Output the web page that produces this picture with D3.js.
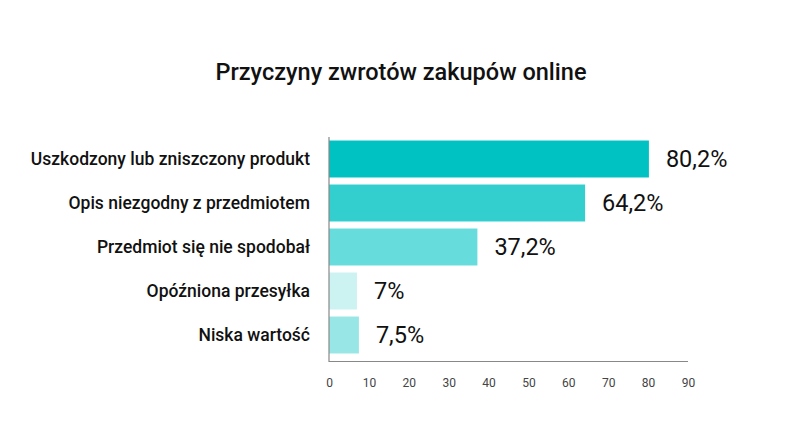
<!DOCTYPE html>
<html><head><meta charset="utf-8">
<script src="https://cdn.jsdelivr.net/npm/d3@7"></script>
<style>body{margin:0;background:#fff}</style>
</head><body><div id="chart"></div>
<script>
const categories = ['Uszkodzony lub zniszczony produkt','Opis niezgodny z przedmiotem','Przedmiot się nie spodobał','Opóźniona przesyłka','Niska wartość'];
const values = [80.2, 64.2, 37.2, 7, 7.5];
const valueLabels = ['80,2%','64,2%','37,2%','7%','7,5%'];
const colors = ['#00c2c2','#33cfcf','#66dcdc','#ccf2f2','#99e6e6'];
const ticks = [0,10,20,30,40,50,60,70,80,90];

const svg = d3.select('#chart').append('svg').attr('width',802).attr('height',442)
  .style('font-family','Roboto');

svg.append('text').attr('x',401).attr('y',80).attr('text-anchor','middle')
  .attr('font-size',23.5).attr('font-weight',500).attr('fill','#111')
  .text('Przyczyny zwrotów zakupów online');

const x = d3.scaleLinear().domain([0,90]).range([329,688]);
const y = d3.scaleBand().domain(categories).range([137,357]).paddingInner(0.16).paddingOuter(0.08);

svg.selectAll('rect.bar').data(values).enter().append('rect')
  .attr('class','bar')
  .attr('x',x(0)).attr('y',(d,i)=>y(categories[i]))
  .attr('width',d=>x(d)-x(0)).attr('height',y.bandwidth())
  .attr('fill',(d,i)=>colors[i]);

svg.selectAll('text.val').data(values).enter().append('text')
  .attr('x',d=>x(d)+17).attr('y',(d,i)=>y(categories[i])+y.bandwidth()/2)
  .attr('dy','0.35em').attr('font-size',23.5).attr('fill','#111')
  .text((d,i)=>valueLabels[i]);

svg.selectAll('text.cat').data(categories).enter().append('text')
  .attr('x',310).attr('y',d=>y(d)+y.bandwidth()/2)
  .attr('dy','0.35em').attr('text-anchor','end').attr('font-size',17.5)
  .attr('font-weight',500).attr('fill','#111').text(d=>d);

// axes
svg.append('line').attr('x1',x(0)).attr('x2',x(0)).attr('y1',137).attr('y2',362)
  .attr('stroke','#888').attr('stroke-width',1.2);
svg.append('line').attr('x1',x(0)).attr('x2',x(90)).attr('y1',361.5).attr('y2',361.5)
  .attr('stroke','#888').attr('stroke-width',1.2);

const ax = svg.append('g').attr('transform','translate(0,361.5)')
  .call(d3.axisBottom(x).tickValues(ticks).tickSize(0).tickPadding(17));
ax.select('.domain').remove();
ax.selectAll('text').attr('font-size',12).attr('fill','#444').attr('font-family','Roboto');
</script></body></html>
